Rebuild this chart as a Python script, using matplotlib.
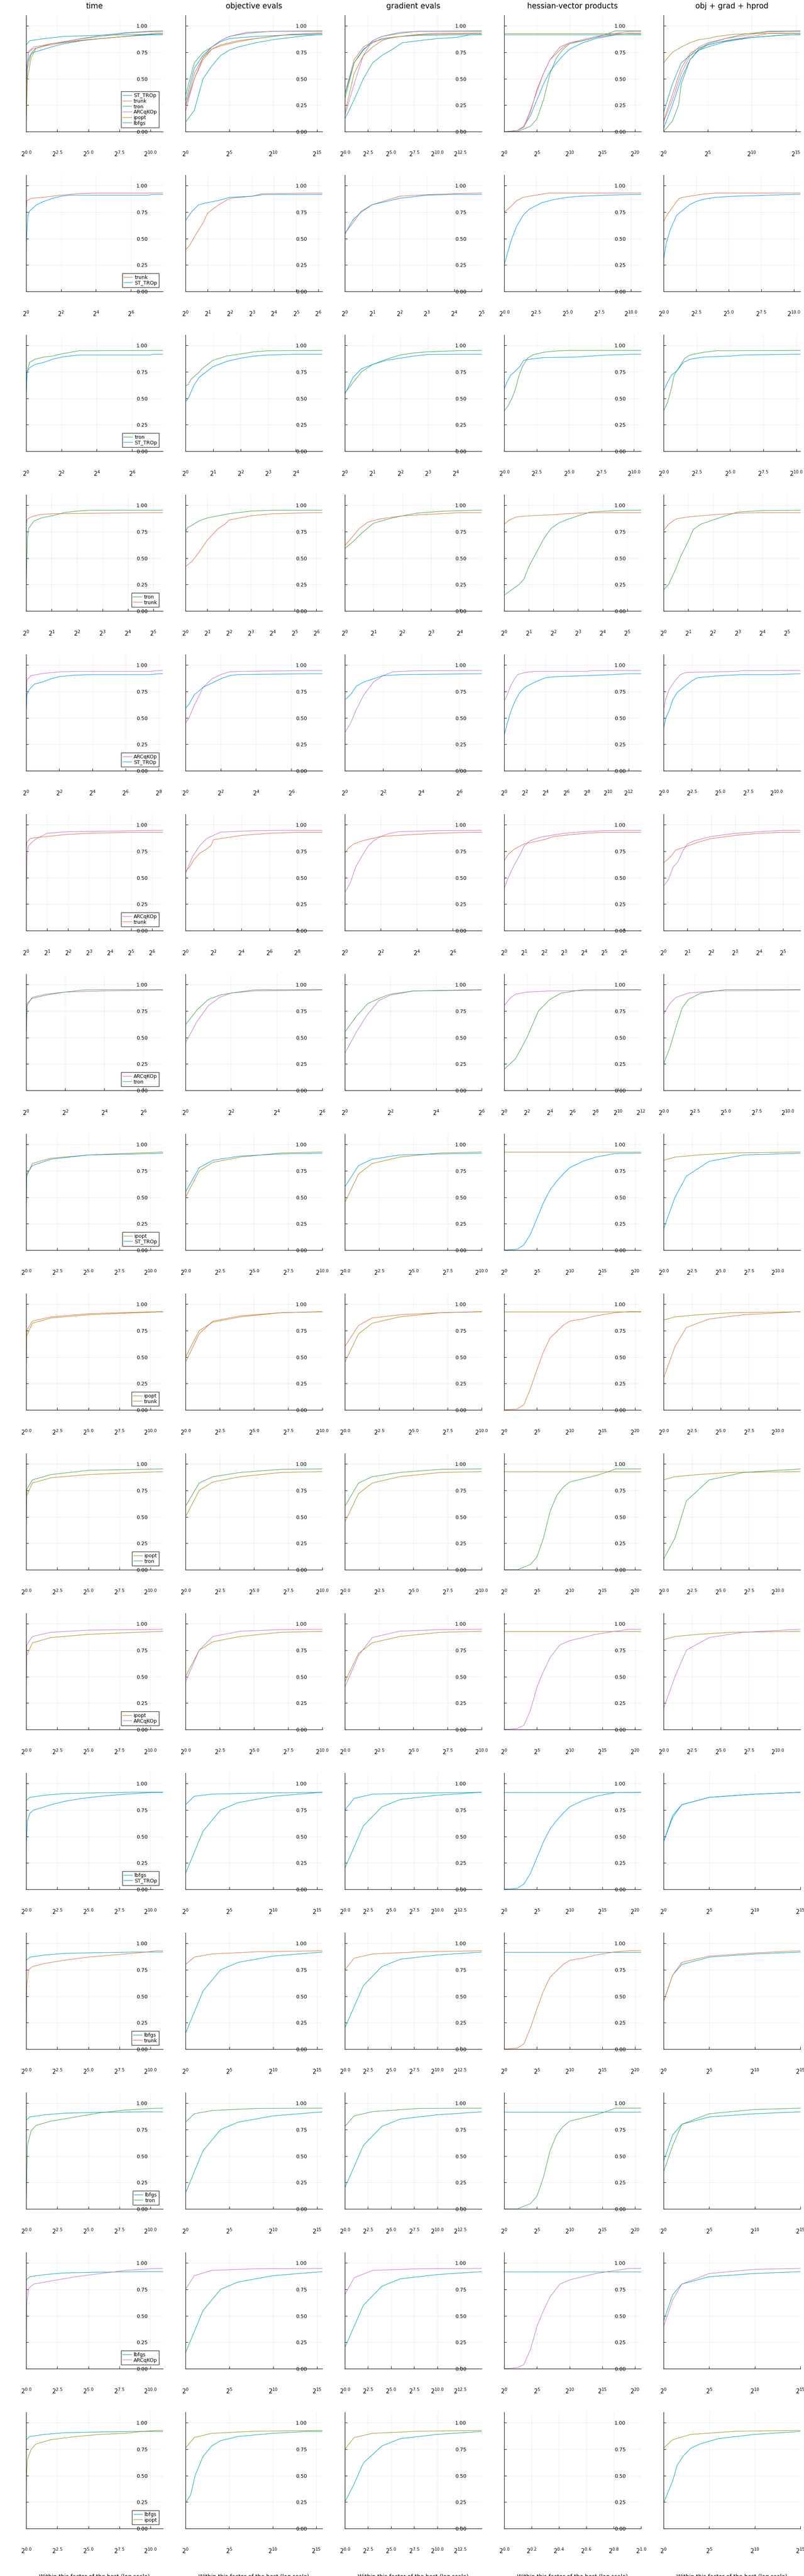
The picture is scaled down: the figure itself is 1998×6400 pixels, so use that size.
#!/usr/bin/env python3
# -*- coding: utf-8 -*-
"""
Performance profiles: all solvers, then every pair of solvers
"""

import math
import matplotlib
matplotlib.use("Agg")
import matplotlib.pyplot as plt
from matplotlib.ticker import FixedLocator, FuncFormatter

COLUMNS = ["time", "objective evals", "gradient evals",
           "hessian-vector products", "obj + grad + hprod"]

COLORS = {"ST_TROp": "#009AFA", "trunk": "#E36F47", "tron": "#3EA44E",
          "ARCqKOp": "#C371D2", "ipopt": "#AC8D18", "lbfgs": "#00A9AD"}

ROW_SOLVERS = [
    ["ST_TROp", "trunk", "tron", "ARCqKOp", "ipopt", "lbfgs"],
    ["trunk", "ST_TROp"], ["tron", "ST_TROp"], ["tron", "trunk"],
    ["ARCqKOp", "ST_TROp"], ["ARCqKOp", "trunk"], ["ARCqKOp", "tron"],
    ["ipopt", "ST_TROp"], ["ipopt", "trunk"], ["ipopt", "tron"], ["ipopt", "ARCqKOp"],
    ["lbfgs", "ST_TROp"], ["lbfgs", "trunk"], ["lbfgs", "tron"], ["lbfgs", "ARCqKOp"],
    ["lbfgs", "ipopt"],
]

# x range (log2 of the ratio) and tick step, per row and column
XMAX = [
    [11.0, 15.6, 14.8, 20.9, 15.5],
    [7.84, 6.18, 5.0, 10.8, 10.5],
    [7.75, 4.96, 4.93, 10.55, 10.3],
    [5.38, 6.27, 4.76, 5.56, 5.54],
    [8.26, 7.75, 7.16, 13.2, 12.1],
    [6.52, 9.78, 7.6, 6.85, 5.73],
    [7.0, 6.0, 6.0, 12.0, 11.0],
    [11.0, 10.0, 10.0, 20.9, 12.0],
    [11.0, 10.0, 10.0, 20.9, 12.0],
    [11.0, 10.0, 10.0, 20.9, 12.0],
    [11.0, 10.0, 10.0, 20.9, 12.0],
    [11.0, 15.6, 14.8, 20.9, 15.0],
    [11.0, 15.6, 14.8, 20.9, 15.0],
    [11.0, 15.6, 14.8, 20.9, 15.0],
    [11.0, 15.6, 14.8, 20.9, 15.0],
    [11.0, 15.7, 14.8, 1.0, 15.0],
]
XSTEP = [
    [2.5, 5, 2.5, 5, 5],
    [2, 1, 1, 2.5, 2.5],
    [2, 1, 1, 2.5, 2.5],
    [1, 1, 1, 1, 1],
    [2, 2, 2, 2, 2.5],
    [1, 2, 2, 1, 1],
    [2, 2, 2, 2, 2.5],
    [2.5, 2.5, 2.5, 5, 2.5],
    [2.5, 2.5, 2.5, 5, 2.5],
    [2.5, 2.5, 2.5, 5, 2.5],
    [2.5, 2.5, 2.5, 5, 2.5],
    [2.5, 5, 2.5, 5, 5],
    [2.5, 5, 2.5, 5, 5],
    [2.5, 5, 2.5, 5, 5],
    [2.5, 5, 2.5, 5, 5],
    [2.5, 5, 2.5, 0.2, 5],
]

# profile knots (log2 ratio, fraction solved) per column:
# time, objective, gradient, hessian-vector, total
r0_ST_TROp = [
    [(0, 0.0), (0.02, 0.45), (0.1, 0.65), (0.3, 0.72), (0.6, 0.75), (1.2, 0.77), (2, 0.8), (3, 0.83), (4.5, 0.86), (6, 0.88), (8, 0.9), (10, 0.915), (11, 0.917)],
    [(0, 0.28), (1, 0.6), (2, 0.72), (3, 0.8), (4, 0.85), (5, 0.88), (8, 0.9), (12, 0.915), (15.6, 0.917)],
    [(0, 0.35), (1, 0.65), (2, 0.78), (3, 0.84), (4, 0.88), (6, 0.9), (8, 0.91), (12, 0.915), (14.8, 0.917)],
    [(0, 0.0), (2, 0.01), (3, 0.05), (4, 0.15), (5, 0.3), (6, 0.45), (7, 0.57), (8, 0.65), (9, 0.72), (10, 0.78), (12, 0.84), (14, 0.88), (17, 0.915), (20.9, 0.917)],
    [(0, 0.03), (1, 0.25), (2, 0.5), (3, 0.68), (4, 0.77), (5, 0.8), (7, 0.85), (10, 0.89), (14, 0.915), (15.5, 0.917)],
]
r0_trunk = [
    [(0, 0.05), (0.05, 0.6), (0.2, 0.75), (0.5, 0.78), (1.5, 0.81), (3, 0.84), (5, 0.87), (7, 0.89), (9, 0.91), (10.5, 0.93), (11, 0.93)],
    [(0, 0.24), (1, 0.5), (2, 0.68), (3, 0.78), (4, 0.81), (6, 0.85), (8, 0.88), (10, 0.9), (12, 0.92), (15, 0.93), (15.6, 0.93)],
    [(0, 0.36), (1, 0.68), (2, 0.8), (3, 0.85), (4, 0.87), (6, 0.9), (8, 0.92), (10, 0.93), (14.8, 0.93)],
    [(0, 0.0), (2, 0.01), (3, 0.05), (4, 0.2), (5, 0.38), (6, 0.55), (7, 0.68), (8, 0.74), (9, 0.8), (10, 0.84), (12, 0.86), (14, 0.89), (17, 0.92), (19, 0.93), (20.9, 0.93)],
    [(0, 0.1), (1, 0.35), (2, 0.6), (3, 0.74), (4, 0.79), (5, 0.82), (7, 0.86), (10, 0.9), (12, 0.93), (15.5, 0.93)],
]
r0_tron = [
    [(0, 0.0), (0.1, 0.6), (0.4, 0.74), (0.8, 0.79), (2, 0.83), (4, 0.87), (6, 0.91), (8, 0.935), (10, 0.95), (11, 0.953)],
    [(0, 0.34), (1, 0.65), (2, 0.75), (3, 0.8), (4, 0.86), (5, 0.9), (7, 0.93), (10, 0.95), (15.6, 0.953)],
    [(0, 0.31), (1, 0.65), (2, 0.77), (3, 0.86), (4, 0.9), (6, 0.93), (8, 0.95), (14.8, 0.953)],
    [(0, 0.0), (2, 0.0), (4, 0.05), (5, 0.12), (6, 0.3), (7, 0.55), (8, 0.7), (9, 0.78), (10, 0.83), (12, 0.86), (14, 0.89), (16, 0.93), (17, 0.953), (20.9, 0.953)],
    [(0, 0.0), (1, 0.1), (1.7, 0.25), (2, 0.45), (3, 0.68), (4, 0.78), (5, 0.83), (7, 0.88), (9, 0.92), (12, 0.95), (15.5, 0.953)],
]
r0_ARCqKOp = [
    [(0, 0.05), (0.05, 0.62), (0.2, 0.76), (0.6, 0.8), (2, 0.83), (4, 0.87), (6, 0.9), (8, 0.93), (10, 0.945), (11, 0.948)],
    [(0, 0.19), (1, 0.5), (2, 0.7), (3, 0.8), (4, 0.86), (5, 0.9), (7, 0.94), (10, 0.948), (15.6, 0.948)],
    [(0, 0.15), (1, 0.45), (2, 0.72), (3, 0.86), (4, 0.9), (5, 0.92), (6, 0.94), (8, 0.948), (14.8, 0.948)],
    [(0, 0.0), (2, 0.01), (3, 0.04), (4, 0.18), (5, 0.4), (6, 0.55), (7, 0.68), (8.5, 0.8), (10, 0.84), (12, 0.87), (14, 0.9), (16, 0.92), (19, 0.948), (20.9, 0.948)],
    [(0, 0.09), (1, 0.3), (2, 0.55), (3, 0.72), (4, 0.8), (5, 0.84), (7, 0.88), (10, 0.92), (12, 0.945), (15.5, 0.948)],
]
r0_ipopt = [
    [(0, 0.05), (0.1, 0.5), (0.4, 0.7), (0.8, 0.79), (2, 0.83), (4, 0.86), (6, 0.88), (8, 0.9), (9.5, 0.92), (10.5, 0.928), (11, 0.928)],
    [(0, 0.24), (1, 0.55), (2, 0.7), (3, 0.78), (4, 0.82), (6, 0.86), (8, 0.88), (10, 0.9), (12, 0.92), (15.6, 0.928)],
    [(0, 0.17), (1, 0.55), (2, 0.72), (3, 0.8), (4, 0.86), (5, 0.89), (7, 0.91), (9, 0.92), (14.8, 0.928)],
    [(0, 0.928), (20.9, 0.928)],
    [(0, 0.65), (1, 0.75), (2, 0.8), (3, 0.84), (4, 0.87), (5, 0.88), (6, 0.9), (8, 0.92), (10, 0.928), (15.5, 0.928)],
]
r0_lbfgs = [
    [(0, 0.82), (0.3, 0.86), (1.5, 0.88), (3, 0.9), (5.5, 0.91), (9, 0.918), (11, 0.918)],
    [(0, 0.09), (1, 0.2), (2, 0.5), (3, 0.62), (4, 0.72), (5, 0.77), (6, 0.8), (8, 0.84), (10, 0.87), (12, 0.89), (14, 0.91), (15.6, 0.918)],
    [(0, 0.12), (1, 0.3), (2, 0.5), (3, 0.65), (4, 0.72), (5, 0.77), (6.2, 0.84), (8, 0.86), (10, 0.88), (12, 0.89), (13.5, 0.915), (14.8, 0.918)],
    [(0, 0.918), (20.9, 0.918)],
    [(0, 0.18), (1, 0.45), (2, 0.65), (3, 0.72), (4, 0.77), (5, 0.82), (6, 0.84), (8, 0.87), (10, 0.89), (13, 0.91), (15.5, 0.918)],
]

r1_trunk = [
    [(0, 0.78), (0.05, 0.86), (0.3, 0.88), (1, 0.89), (1.5, 0.9), (2, 0.91), (3, 0.925), (4, 0.93), (7.84, 0.93)],
    [(0, 0.39), (0.2, 0.44), (0.5, 0.55), (0.8, 0.65), (1, 0.74), (1.5, 0.82), (2, 0.88), (3, 0.9), (3.5, 0.925), (6.18, 0.93)],
    [(0, 0.55), (0.3, 0.65), (0.6, 0.76), (1, 0.82), (1.5, 0.86), (2, 0.9), (3, 0.915), (4, 0.925), (5, 0.93)],
    [(0, 0.75), (0.5, 0.8), (1, 0.86), (1.5, 0.89), (2, 0.9), (3, 0.92), (3.5, 0.93), (10.8, 0.93)],
    [(0, 0.66), (0.3, 0.73), (0.6, 0.78), (1, 0.85), (1.2, 0.88), (1.5, 0.89), (2, 0.9), (3, 0.92), (4, 0.93), (10.5, 0.93)],
]
r1_ST_TROp = [
    [(0, 0.2), (0.02, 0.5), (0.1, 0.72), (0.2, 0.76), (0.6, 0.82), (1, 0.85), (1.5, 0.88), (2, 0.9), (2.5, 0.91), (7, 0.91), (7.2, 0.917), (7.84, 0.917)],
    [(0, 0.67), (0.1, 0.7), (0.3, 0.76), (0.6, 0.82), (1, 0.84), (1.5, 0.86), (2, 0.89), (3, 0.9), (3.5, 0.915), (6.18, 0.917)],
    [(0, 0.54), (0.3, 0.68), (0.6, 0.75), (1, 0.82), (1.5, 0.85), (2, 0.88), (3, 0.91), (4, 0.917), (5, 0.917)],
    [(0, 0.25), (0.3, 0.38), (0.6, 0.5), (1, 0.62), (1.5, 0.72), (2, 0.78), (2.5, 0.81), (3, 0.84), (4, 0.87), (5, 0.89), (6, 0.9), (8, 0.91), (10.5, 0.917), (10.8, 0.917)],
    [(0, 0.3), (0.2, 0.45), (0.5, 0.58), (1, 0.72), (1.5, 0.77), (2, 0.82), (2.5, 0.85), (3, 0.87), (4, 0.89), (5.5, 0.9), (10, 0.917), (10.5, 0.917)],
]

r2_tron = [
    [(0, 0.45), (0.05, 0.75), (0.2, 0.84), (0.5, 0.87), (1, 0.89), (1.5, 0.9), (2, 0.92), (2.5, 0.935), (3, 0.95), (7.75, 0.953)],
    [(0, 0.62), (0.1, 0.63), (0.2, 0.68), (0.5, 0.75), (0.6, 0.78), (1, 0.86), (1.5, 0.9), (2, 0.92), (2.5, 0.94), (3, 0.95), (4.96, 0.953)],
    [(0, 0.55), (0.3, 0.65), (0.6, 0.75), (1, 0.82), (1.5, 0.87), (2, 0.91), (2.5, 0.93), (3, 0.94), (4, 0.95), (4.93, 0.953)],
    [(0, 0.38), (0.3, 0.43), (0.6, 0.5), (0.9, 0.6), (1.1, 0.7), (1.4, 0.8), (1.8, 0.88), (2.2, 0.91), (3, 0.935), (4, 0.948), (5, 0.953), (10.55, 0.953)],
    [(0, 0.38), (0.3, 0.46), (0.6, 0.6), (0.8, 0.72), (1.2, 0.8), (1.6, 0.88), (2, 0.91), (3, 0.935), (4, 0.95), (10.3, 0.953)],
]
r2_ST_TROp = [
    [(0, 0.5), (0.05, 0.75), (0.2, 0.79), (0.5, 0.82), (1, 0.84), (1.5, 0.87), (2, 0.89), (2.5, 0.9), (3, 0.91), (7, 0.91), (7.2, 0.917), (7.75, 0.917)],
    [(0, 0.47), (0.1, 0.5), (0.3, 0.62), (0.5, 0.7), (0.8, 0.76), (1, 0.8), (1.5, 0.85), (2, 0.88), (2.5, 0.9), (3, 0.91), (4, 0.917), (4.96, 0.917)],
    [(0, 0.54), (0.3, 0.7), (0.6, 0.78), (1, 0.82), (1.5, 0.86), (2, 0.88), (2.5, 0.9), (3, 0.915), (4.93, 0.917)],
    [(0, 0.59), (0.2, 0.65), (0.5, 0.72), (0.8, 0.75), (1.2, 0.8), (1.5, 0.86), (2, 0.87), (3, 0.885), (5.5, 0.89), (8, 0.91), (10, 0.917), (10.55, 0.917)],
    [(0, 0.57), (0.3, 0.65), (0.6, 0.72), (1, 0.76), (1.5, 0.84), (2, 0.87), (3, 0.89), (5, 0.9), (6, 0.91), (10, 0.917), (10.3, 0.917)],
]

r3_tron = [
    [(0, 0.2), (0.05, 0.7), (0.1, 0.78), (0.3, 0.85), (0.6, 0.88), (1, 0.9), (1.5, 0.93), (2, 0.945), (2.5, 0.953), (5.38, 0.953)],
    [(0, 0.75), (0.1, 0.79), (0.3, 0.81), (0.6, 0.85), (1, 0.88), (1.5, 0.9), (2, 0.92), (3, 0.945), (4, 0.953), (6.27, 0.953)],
    [(0, 0.59), (0.3, 0.66), (0.6, 0.74), (1, 0.83), (1.5, 0.87), (2, 0.9), (2.5, 0.925), (3.5, 0.945), (4.5, 0.953), (4.76, 0.953)],
    [(0, 0.15), (0.3, 0.2), (0.6, 0.25), (0.8, 0.3), (1, 0.42), (1.3, 0.55), (1.6, 0.68), (1.9, 0.78), (2.2, 0.83), (2.5, 0.86), (3, 0.9), (3.5, 0.935), (4.5, 0.95), (5, 0.953), (5.56, 0.953)],
    [(0, 0.2), (0.2, 0.25), (0.5, 0.4), (0.7, 0.52), (1, 0.66), (1.2, 0.77), (1.5, 0.82), (2, 0.86), (2.5, 0.9), (3, 0.935), (4, 0.95), (5.54, 0.953)],
]
r3_trunk = [
    [(0, 0.82), (0.05, 0.87), (0.2, 0.89), (0.5, 0.91), (1, 0.92), (3, 0.925), (5, 0.93), (5.38, 0.93)],
    [(0, 0.42), (0.3, 0.47), (0.6, 0.55), (1, 0.67), (1.5, 0.78), (1.8, 0.82), (2, 0.86), (2.5, 0.88), (3, 0.9), (4, 0.92), (5, 0.925), (6, 0.93), (6.27, 0.93)],
    [(0, 0.62), (0.2, 0.68), (0.5, 0.78), (0.8, 0.84), (1.2, 0.87), (2, 0.9), (3, 0.915), (4, 0.93), (4.76, 0.93)],
    [(0, 0.82), (0.2, 0.86), (0.5, 0.89), (1, 0.9), (1.5, 0.905), (2, 0.91), (2.5, 0.92), (3, 0.925), (4, 0.93), (5.56, 0.93)],
    [(0, 0.76), (0.2, 0.82), (0.5, 0.87), (1, 0.89), (2, 0.91), (3, 0.925), (4, 0.93), (5.54, 0.93)],
]

r4_ARCqKOp = [
    [(0, 0.45), (0.05, 0.86), (0.3, 0.9), (1, 0.92), (2, 0.935), (3, 0.94), (7.5, 0.94), (8, 0.948), (8.26, 0.948)],
    [(0, 0.45), (0.2, 0.5), (0.5, 0.62), (0.8, 0.72), (1, 0.79), (1.5, 0.87), (2, 0.91), (2.5, 0.935), (3, 0.94), (7, 0.948), (7.75, 0.948)],
    [(0, 0.36), (0.3, 0.45), (0.6, 0.58), (1, 0.72), (1.5, 0.84), (2, 0.9), (2.5, 0.935), (3.5, 0.945), (7, 0.948), (7.16, 0.948)],
    [(0, 0.66), (0.3, 0.72), (0.6, 0.8), (1, 0.87), (1.3, 0.91), (2, 0.93), (3, 0.94), (8, 0.94), (8.5, 0.948), (13.2, 0.948)],
    [(0, 0.58), (0.2, 0.68), (0.5, 0.77), (1, 0.85), (1.5, 0.91), (2, 0.93), (6.5, 0.94), (7, 0.948), (12.1, 0.948)],
]
r4_ST_TROp = [
    [(0, 0.55), (0.05, 0.72), (0.2, 0.77), (0.5, 0.82), (1, 0.84), (1.5, 0.87), (2, 0.89), (3, 0.905), (4, 0.91), (7.5, 0.91), (8, 0.917), (8.26, 0.917)],
    [(0, 0.59), (0.2, 0.63), (0.5, 0.72), (0.8, 0.76), (1, 0.79), (1.5, 0.83), (2, 0.87), (2.5, 0.9), (3, 0.91), (7, 0.917), (7.75, 0.917)],
    [(0, 0.67), (0.3, 0.72), (0.6, 0.8), (1, 0.84), (1.5, 0.87), (2, 0.9), (3, 0.91), (7, 0.917), (7.16, 0.917)],
    [(0, 0.34), (0.3, 0.45), (0.6, 0.55), (1, 0.65), (1.5, 0.74), (2, 0.79), (3, 0.84), (4, 0.88), (5, 0.89), (8, 0.9), (12, 0.917), (13.2, 0.917)],
    [(0, 0.4), (0.2, 0.5), (0.5, 0.57), (0.8, 0.67), (1.2, 0.74), (2, 0.81), (2.5, 0.85), (3, 0.88), (5, 0.9), (7, 0.91), (10, 0.91), (12, 0.917), (12.1, 0.917)],
]

r5_ARCqKOp = [
    [(0, 0.3), (0.05, 0.75), (0.1, 0.8), (0.3, 0.84), (0.5, 0.87), (0.8, 0.9), (1, 0.92), (2, 0.935), (4, 0.94), (6, 0.948), (6.52, 0.948)],
    [(0, 0.54), (0.2, 0.6), (0.5, 0.7), (1, 0.8), (1.5, 0.87), (2, 0.9), (2.5, 0.93), (4, 0.94), (5, 0.945), (7, 0.948), (9.78, 0.948)],
    [(0, 0.36), (0.3, 0.45), (0.6, 0.6), (1, 0.72), (1.3, 0.8), (1.6, 0.85), (2, 0.89), (2.5, 0.92), (3, 0.935), (5, 0.945), (7, 0.948), (7.6, 0.948)],
    [(0, 0.4), (0.2, 0.5), (0.5, 0.62), (0.8, 0.72), (1, 0.8), (1.3, 0.85), (1.6, 0.87), (2, 0.89), (3, 0.92), (4, 0.935), (5, 0.945), (6, 0.948), (6.85, 0.948)],
    [(0, 0.42), (0.2, 0.48), (0.4, 0.6), (0.6, 0.65), (0.8, 0.75), (1, 0.82), (1.3, 0.85), (2, 0.89), (3, 0.92), (4, 0.935), (5, 0.948), (5.73, 0.948)],
]
r5_trunk = [
    [(0, 0.78), (0.05, 0.84), (0.2, 0.87), (0.5, 0.88), (1, 0.89), (1.5, 0.9), (2, 0.91), (3, 0.92), (4, 0.925), (5, 0.93), (6.52, 0.93)],
    [(0, 0.56), (0.3, 0.6), (0.6, 0.67), (1, 0.73), (1.5, 0.77), (1.8, 0.8), (2, 0.86), (3, 0.88), (4, 0.9), (6, 0.92), (8, 0.93), (9.78, 0.93)],
    [(0, 0.73), (0.2, 0.78), (0.5, 0.82), (1, 0.85), (1.5, 0.87), (2, 0.89), (3, 0.9), (4, 0.91), (5, 0.92), (7, 0.93), (7.6, 0.93)],
    [(0, 0.66), (0.2, 0.72), (0.5, 0.77), (1, 0.82), (1.5, 0.84), (2, 0.86), (2.5, 0.89), (3, 0.9), (4, 0.92), (5, 0.93), (6.85, 0.93)],
    [(0, 0.64), (0.3, 0.7), (0.5, 0.76), (1, 0.8), (1.5, 0.84), (2, 0.87), (3, 0.9), (4, 0.92), (5, 0.93), (5.73, 0.93)],
]

r6_ARCqKOp = [
    [(0, 0.4), (0.05, 0.8), (0.3, 0.88), (1, 0.91), (2, 0.93), (4, 0.94), (7, 0.948)],
    [(0, 0.45), (0.5, 0.65), (1, 0.8), (1.5, 0.88), (2, 0.92), (3, 0.94), (6, 0.948)],
    [(0, 0.35), (0.5, 0.55), (1, 0.72), (1.5, 0.85), (2, 0.9), (3, 0.94), (6, 0.948)],
    [(0, 0.8), (0.5, 0.87), (1, 0.91), (2, 0.93), (4, 0.94), (12, 0.948)],
    [(0, 0.72), (0.5, 0.82), (1, 0.88), (2, 0.92), (4, 0.94), (11, 0.948)],
]
r6_tron = [
    [(0, 0.5), (0.05, 0.82), (0.3, 0.87), (1, 0.9), (2, 0.93), (3, 0.95), (7, 0.953)],
    [(0, 0.62), (0.5, 0.76), (1, 0.86), (1.5, 0.9), (2, 0.92), (3, 0.95), (6, 0.953)],
    [(0, 0.55), (0.5, 0.7), (1, 0.82), (1.5, 0.87), (2, 0.91), (3, 0.94), (6, 0.953)],
    [(0, 0.2), (1, 0.3), (2, 0.5), (3, 0.75), (4, 0.86), (5, 0.92), (7, 0.953), (12, 0.953)],
    [(0, 0.25), (0.5, 0.4), (1, 0.6), (1.5, 0.78), (2, 0.86), (3, 0.92), (5, 0.953), (11, 0.953)],
]

# ipopt and lbfgs use no hessian-vector products: flat profiles there
r7_ipopt = [
    [(0, 0.3), (0.05, 0.7), (0.5, 0.82), (2, 0.87), (5, 0.9), (9, 0.92), (11, 0.928)],
    [(0, 0.5), (1, 0.75), (2, 0.83), (4, 0.88), (7, 0.92), (10, 0.928)],
    [(0, 0.45), (1, 0.72), (2, 0.82), (4, 0.88), (7, 0.92), (10, 0.928)],
    [(0, 0.928), (20.9, 0.928)],
    [(0, 0.85), (1, 0.88), (3, 0.9), (6, 0.92), (12, 0.928)],
]
r7_ST_TROp = [
    [(0, 0.3), (0.05, 0.72), (0.5, 0.8), (2, 0.86), (5, 0.9), (9, 0.91), (11, 0.917)],
    [(0, 0.55), (1, 0.78), (2, 0.85), (4, 0.89), (7, 0.91), (10, 0.917)],
    [(0, 0.6), (1, 0.8), (2, 0.86), (4, 0.9), (7, 0.91), (10, 0.917)],
    r0_ST_TROp[3],
    [(0, 0.2), (1, 0.5), (2, 0.7), (4, 0.84), (7, 0.9), (12, 0.917)],
]
r8_ipopt = r7_ipopt
r8_trunk = [
    [(0, 0.3), (0.05, 0.75), (0.5, 0.84), (2, 0.88), (5, 0.91), (9, 0.925), (11, 0.93)],
    [(0, 0.45), (1, 0.72), (2, 0.84), (4, 0.89), (7, 0.92), (10, 0.93)],
    [(0, 0.6), (1, 0.8), (2, 0.87), (4, 0.9), (7, 0.92), (10, 0.93)],
    r0_trunk[3],
    [(0, 0.3), (1, 0.6), (2, 0.78), (4, 0.86), (7, 0.9), (12, 0.93)],
]
r9_ipopt = r7_ipopt
r9_tron = [
    [(0, 0.3), (0.05, 0.76), (0.5, 0.85), (2, 0.9), (5, 0.94), (9, 0.95), (11, 0.953)],
    [(0, 0.6), (1, 0.82), (2, 0.88), (4, 0.92), (7, 0.95), (10, 0.953)],
    [(0, 0.6), (1, 0.82), (2, 0.88), (4, 0.92), (7, 0.95), (10, 0.953)],
    r0_tron[3],
    [(0, 0.1), (1, 0.3), (2, 0.65), (4, 0.85), (7, 0.92), (12, 0.953)],
]
r10_ipopt = r7_ipopt
r10_ARCqKOp = [
    [(0, 0.3), (0.05, 0.8), (0.5, 0.88), (2, 0.92), (5, 0.94), (9, 0.945), (11, 0.948)],
    [(0, 0.45), (1, 0.75), (2, 0.88), (4, 0.93), (7, 0.945), (10, 0.948)],
    [(0, 0.4), (1, 0.7), (2, 0.87), (4, 0.93), (7, 0.945), (10, 0.948)],
    r0_ARCqKOp[3],
    [(0, 0.2), (1, 0.5), (2, 0.75), (4, 0.87), (7, 0.92), (12, 0.948)],
]
r11_lbfgs = [
    [(0, 0.84), (0.3, 0.87), (1.5, 0.89), (3, 0.905), (5.5, 0.912), (9, 0.918), (11, 0.918)],
    [(0, 0.15), (2, 0.55), (4, 0.75), (6, 0.82), (10, 0.88), (15.6, 0.918)],
    [(0, 0.2), (2, 0.6), (4, 0.78), (6, 0.85), (10, 0.89), (14.8, 0.918)],
    [(0, 0.918), (20.9, 0.918)],
    [(0, 0.45), (1, 0.7), (2, 0.8), (5, 0.87), (10, 0.9), (15, 0.918)],
]
r11_ST_TROp = [
    r0_ST_TROp[0],
    [(0, 0.8), (1, 0.88), (3, 0.9), (8, 0.91), (15.6, 0.917)],
    [(0, 0.75), (1, 0.86), (3, 0.9), (8, 0.91), (14.8, 0.917)],
    r0_ST_TROp[3],
    [(0, 0.45), (1, 0.68), (2, 0.8), (5, 0.87), (10, 0.9), (15, 0.917)],
]
r12_lbfgs = r11_lbfgs
r12_trunk = [
    r0_trunk[0],
    [(0, 0.8), (1, 0.87), (3, 0.9), (8, 0.92), (15.6, 0.93)],
    [(0, 0.75), (1, 0.86), (3, 0.9), (8, 0.92), (14.8, 0.93)],
    r0_trunk[3],
    [(0, 0.45), (1, 0.7), (2, 0.82), (5, 0.88), (10, 0.91), (15, 0.93)],
]
r13_lbfgs = r11_lbfgs
r13_tron = [
    r0_tron[0],
    [(0, 0.82), (1, 0.9), (3, 0.93), (8, 0.95), (15.6, 0.953)],
    [(0, 0.78), (1, 0.88), (3, 0.92), (8, 0.95), (14.8, 0.953)],
    r0_tron[3],
    [(0, 0.35), (1, 0.6), (2, 0.8), (5, 0.9), (10, 0.94), (15, 0.953)],
]
r14_lbfgs = r11_lbfgs
r14_ARCqKOp = [
    r0_ARCqKOp[0],
    [(0, 0.75), (1, 0.88), (3, 0.93), (8, 0.945), (15.6, 0.948)],
    [(0, 0.7), (1, 0.86), (3, 0.93), (8, 0.945), (14.8, 0.948)],
    r0_ARCqKOp[3],
    [(0, 0.4), (1, 0.65), (2, 0.8), (5, 0.9), (10, 0.94), (15, 0.948)],
]
r15_lbfgs = [
    [(0, 0.84), (0.3, 0.87), (1.5, 0.89), (3, 0.905), (5.5, 0.912), (9, 0.918), (11, 0.918)],
    [(0, 0.24), (0.6, 0.32), (1.1, 0.5), (2, 0.68), (3, 0.78), (4, 0.83), (6, 0.87), (10, 0.9), (14, 0.918), (15.7, 0.918)],
    [(0, 0.25), (1, 0.42), (2, 0.62), (4, 0.78), (6, 0.85), (10, 0.89), (14.8, 0.918)],
    [],
    [(0, 0.24), (1, 0.45), (1.5, 0.6), (2.2, 0.69), (3, 0.76), (4, 0.8), (6, 0.85), (10, 0.89), (15, 0.918)],
]
r15_ipopt = [
    [(0, 0.15), (0.03, 0.5), (0.1, 0.65), (0.4, 0.75), (0.8, 0.8), (2, 0.84), (4, 0.87), (6, 0.89), (8, 0.9), (9.5, 0.92), (10.5, 0.928), (11, 0.928)],
    [(0, 0.76), (1, 0.86), (3, 0.9), (8, 0.92), (15.7, 0.928)],
    [(0, 0.75), (1, 0.86), (3, 0.9), (8, 0.92), (14.8, 0.928)],
    [],
    [(0, 0.76), (1, 0.84), (3, 0.89), (8, 0.92), (15, 0.928)],
]

ROW_CURVES = [
    [r0_ST_TROp, r0_trunk, r0_tron, r0_ARCqKOp, r0_ipopt, r0_lbfgs],
    [r1_trunk, r1_ST_TROp], [r2_tron, r2_ST_TROp], [r3_tron, r3_trunk],
    [r4_ARCqKOp, r4_ST_TROp], [r5_ARCqKOp, r5_trunk], [r6_ARCqKOp, r6_tron],
    [r7_ipopt, r7_ST_TROp], [r8_ipopt, r8_trunk], [r9_ipopt, r9_tron],
    [r10_ipopt, r10_ARCqKOp], [r11_lbfgs, r11_ST_TROp], [r12_lbfgs, r12_trunk],
    [r13_lbfgs, r13_tron], [r14_lbfgs, r14_ARCqKOp], [r15_lbfgs, r15_ipopt],
]

YTICKS = [0.0, 0.25, 0.5, 0.75, 1.0]


def tick_label(step):
    if float(step).is_integer():
        return lambda v, pos: r"$2^{%d}$" % round(math.log2(v))
    return lambda v, pos: r"$2^{%.1f}$" % math.log2(v)


W, H = 1999, 6400
plt.rcParams['font.family'] = ['DejaVu Sans']
plt.rcParams['mathtext.fontset'] = 'dejavusans'
fig = plt.figure(figsize=(W / 100, H / 100), dpi=100)

for r, solvers in enumerate(ROW_SOLVERS):
    for c in range(5):
        left = 65 + 396 * c
        bottom = 327 + 397 * r
        ax = fig.add_axes([left / W, 1 - bottom / H, 340 / W, 289 / H])
        xmax = XMAX[r][c]
        step = XSTEP[r][c]
        for name, curves in zip(solvers, ROW_CURVES[r]):
            knots = curves[c]
            if not knots:
                continue
            xs = [2 ** k[0] for k in knots]
            ys = [k[1] for k in knots]
            ax.plot(xs, ys, color=COLORS[name], lw=0.85, label=name)

        ax.set_xscale('log', base=2)
        ax.set_xlim(1, 2 ** xmax)
        ax.set_ylim(0, 1.1)
        ticks = []
        t = 0.0
        while t <= xmax + 1e-9:
            ticks.append(2 ** t)
            t += step
        ax.xaxis.set_major_locator(FixedLocator(ticks))
        ax.xaxis.set_minor_locator(FixedLocator([]))
        ax.xaxis.set_major_formatter(FuncFormatter(tick_label(step)))
        ax.set_yticks(YTICKS)

        for s in ['top', 'right']:
            ax.spines[s].set_visible(False)
        for s in ['left', 'bottom']:
            ax.spines[s].set_linewidth(1.0)
            ax.spines[s].set_color('#222222')
        ax.grid(True, color='black', alpha=0.07, lw=0.8)
        ax.tick_params(axis='x', direction='in', length=4, width=0.8,
                       labelsize=10.5, pad=33)
        ax.tick_params(axis='y', direction='in', length=4, width=0.8,
                       left=True, right=False, labelleft=False,
                       labelright=(c < 4), labelsize=9, pad=-47.5)

        if r == 0:
            ax.set_title(COLUMNS[c], fontsize=13.5, pad=12)
        if c == 0:
            leg = ax.legend(loc='lower right', fontsize=9, frameon=True, fancybox=False,
                            edgecolor='#333333', framealpha=1, handlelength=1.7,
                            labelspacing=0.05, borderaxespad=0.8, borderpad=0.35,
                            handletextpad=0.4)
            for line in leg.get_lines():
                line.set_linewidth(1.6)
                line.set_alpha(0.6)
        if r == len(ROW_SOLVERS) - 1:
            ax.set_xlabel("Within this factor of the best (log scale)", fontsize=10)
            ax.xaxis.set_label_coords(0.5, -0.39)

fig.savefig("out.png", dpi=100)
